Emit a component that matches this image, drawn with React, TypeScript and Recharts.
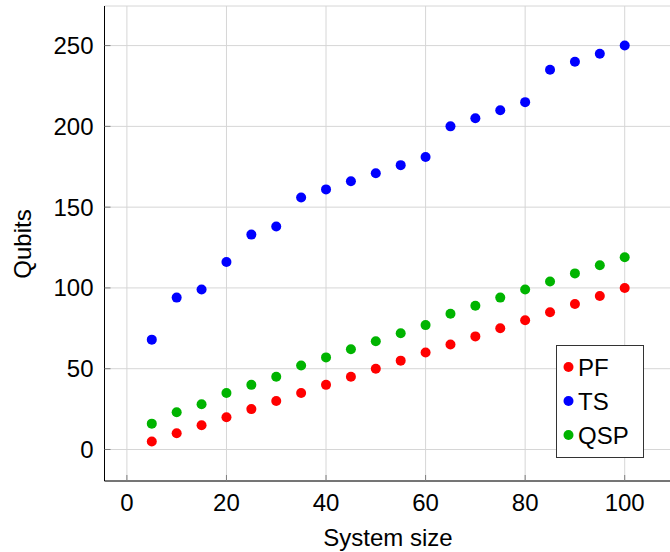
import React from 'react';
import { ScatterChart, Scatter, XAxis, YAxis, CartesianGrid, Legend } from 'recharts';

const systemSize = [5, 10, 15, 20, 25, 30, 35, 40, 45, 50, 55, 60, 65, 70, 75, 80, 85, 90, 95, 100];
const pfQubits = [5, 10, 15, 20, 25, 30, 35, 40, 45, 50, 55, 60, 65, 70, 75, 80, 85, 90, 95, 100];
const tsQubits = [68, 94, 99, 116, 133, 138, 156, 161, 166, 171, 176, 181, 200, 205, 210, 215, 235, 240, 245, 250];
const qspQubits = [16, 23, 28, 35, 40, 45, 52, 57, 62, 67, 72, 77, 84, 89, 94, 99, 104, 109, 114, 119];
const xTicks = [0, 20, 40, 60, 80, 100];
const yTicks = [0, 50, 100, 150, 200, 250];
const seriesNames = ['PF', 'TS', 'QSP'];
const seriesColors = ['#ff0000', '#0000ff', '#00b400'];

const toPoints = (ys: number[]) => systemSize.map((x, i) => ({ x, y: ys[i] }));
const seriesData = [toPoints(pfQubits), toPoints(tsQubits), toPoints(qspQubits)];

const FONT = '"Liberation Sans", Arial, sans-serif';
const X_DOMAIN: [number, number] = [-4.5, 109.5];
const Y_DOMAIN: [number, number] = [-19.5, 274.5];

const Empty = () => <g />;

const dotShape = (color: string) => (p: any) => (
  <circle cx={p.cx} cy={p.cy} r={5} fill={color} stroke="none" />
);

const LegendBox = () => (
  <svg width={88} height={113} style={{ display: 'block' }}>
    <rect x={0.5} y={0.5} width={87} height={112} fill="#fff" stroke="#333" strokeWidth={1} />
    {seriesNames.map((n, i) => (
      <g key={n}>
        <circle cx={12.5} cy={22 + i * 34} r={5} fill={seriesColors[i]} />
        <text x={22} y={22 + i * 34} dominantBaseline="central" fontSize={24} fontFamily={FONT} fill="#000">
          {n}
        </text>
      </g>
    ))}
  </svg>
);

export default function App() {
  return (
    <div style={{ position: 'absolute', left: 0, top: 0, width: 670, height: 552, overflow: 'hidden', background: '#fff' }}>
      <ScatterChart width={700} height={552} margin={{ top: 6, right: 28, bottom: 0, left: 0 }}>
        <CartesianGrid stroke="#d6d6d6" strokeWidth={1} />
        <XAxis
          dataKey="x"
          type="number"
          domain={X_DOMAIN}
          ticks={xTicks}
          allowDataOverflow
          height={71}
          axisLine={{ stroke: '#000', strokeWidth: 1 }}
          tickLine={{ stroke: '#7f7f7f' }}
          tickSize={-6}
          tickMargin={19}
          tick={{ fontSize: 24, fontFamily: FONT, fill: '#000' }}
          label={{
            content: () => (
              <text x={388} y={537} textAnchor="middle" dominantBaseline="central" fontSize={24} fontFamily={FONT} fill="#000">
                System size
              </text>
            ),
          }}
        />
        <XAxis
          xAxisId="top"
          orientation="top"
          type="number"
          domain={X_DOMAIN}
          ticks={xTicks}
          allowDataOverflow
          height={0}
          axisLine={{ stroke: '#000', strokeWidth: 1 }}
          tickLine={{ stroke: '#7f7f7f' }}
          tickSize={-6}
          tick={Empty}
        />
        <YAxis
          dataKey="y"
          type="number"
          domain={Y_DOMAIN}
          ticks={yTicks}
          allowDataOverflow
          width={104.5}
          axisLine={{ stroke: '#000', strokeWidth: 1 }}
          tickLine={{ stroke: '#7f7f7f' }}
          tickSize={-6}
          tickMargin={17}
          tick={{ fontSize: 24, fontFamily: FONT, fill: '#000' }}
          label={{
            content: () => (
              <text x={22} y={244} transform="rotate(-90 22 244)" textAnchor="middle" dominantBaseline="central" fontSize={24} fontFamily={FONT} fill="#000">
                Qubits
              </text>
            ),
          }}
        />
        <YAxis
          yAxisId="right"
          orientation="right"
          type="number"
          domain={Y_DOMAIN}
          ticks={yTicks}
          allowDataOverflow
          width={0}
          axisLine={{ stroke: '#000', strokeWidth: 1 }}
          tickLine={{ stroke: '#7f7f7f' }}
          tickSize={-6}
          tick={Empty}
        />
        {seriesNames.map((n, i) => (
          <Scatter
            key={n}
            name={n}
            data={seriesData[i]}
            fill={seriesColors[i]}
            shape={dotShape(seriesColors[i])}
            isAnimationActive={false}
          />
        ))}
        <Legend
          layout="vertical"
          align="center"
          verticalAlign="middle"
          wrapperStyle={{ left: 556, top: 345, width: 88, height: 113 }}
          content={() => <LegendBox />}
        />
      </ScatterChart>
    </div>
  );
}
